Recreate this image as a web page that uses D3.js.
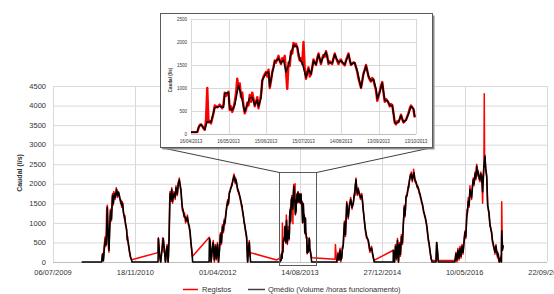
<!DOCTYPE html>
<html>
<head>
<meta charset="utf-8">
<script src="https://cdn.jsdelivr.net/npm/d3@7/dist/d3.min.js"></script>
<style>
    body { margin: 0; background: #fff; }
    svg { font-family: "Liberation Sans", Arial, sans-serif; }
</style>
</head>
<body>
<svg id="chart" width="554" height="294"></svg>
<script>
// datas em numero de serie Excel (dias desde 30/12/1899)
var mainTicks = [40000, 40500, 41000, 41500, 42000, 42500, 43000];
var caudalTicks = [0, 500, 1000, 1500, 2000, 2500, 3000, 3500, 4000, 4500];
var insetTicks = [41380, 41410, 41440, 41470, 41500, 41530, 41560];
var insetCaudalTicks = [0, 500, 1000, 1500, 2000, 2500];
var zoomWindow = [41375, 41597];
var zoomCaudal = [-80, 2300];
var seriesNames = ["Registos", "Qmédio (Volume /horas funcionamento)"];
var yTitle = "Caudal (l/s)";

// Registos (diarios)
var registos = [
    [40296, 0], [40301, 220], [40304, 60], [40307, 100], [40310, 400], [40314, 550], [40317, 650], [40321, 400], [40326, 1350], [40330, 1450],
    [40333, 800], [40337, 350], [40340, 250], [40344, 950], [40348, 1350], [40352, 1200], [40355, 1050], [40359, 1650], [40362, 1750], [40365, 1450],
    [40369, 1800], [40373, 1700], [40377, 1600], [40381, 1800], [40384, 1900], [40387, 1800], [40390, 1750], [40393, 1650], [40396, 1800], [40399, 1720],
    [40403, 1700], [40407, 1600], [40411, 1500], [40414, 1580], [40417, 1400], [40420, 1550], [40423, 1450], [40427, 1300], [40431, 1200], [40434, 1100],
    [40437, 1180], [40440, 950], [40444, 900], [40448, 800], [40451, 550], [40454, 650], [40457, 450], [40461, 350], [40464, 250], [40467, 200],
    [40470, 120], [40474, 80], [40478, 60],
    [40638, 240],
    [40640, 620], [40644, 350], [40647, 150], [40651, 50], [40654, 0], [40658, 200], [40662, 350], [40666, 620], [40670, 550], [40674, 250],
    [40677, 350], [40680, 100], [40683, 0], [40688, 250], [40693, 450], [40696, 200], [40699, 0], [40702, 200], [40705, 700], [40708, 1500],
    [40711, 1800], [40714, 1650], [40717, 1550], [40721, 1900], [40724, 1700], [40726, 1500], [40729, 1650], [40731, 1750], [40735, 1800], [40738, 1700],
    [40742, 1600], [40745, 1800], [40747, 1950], [40751, 1750], [40755, 1700], [40758, 1850], [40761, 2050], [40764, 2000], [40767, 2150], [40770, 2000],
    [40773, 1900], [40777, 1800], [40780, 1650], [40783, 1450], [40787, 1300], [40791, 1350], [40795, 1150], [40799, 1250], [40802, 1100], [40805, 1000],
    [40809, 1100], [40812, 1050], [40816, 1200], [40819, 1100], [40822, 950], [40825, 950], [40828, 850], [40831, 800], [40833, 700], [40836, 550],
    [40838, 450], [40841, 350], [40844, 200], [40846, 140],
    [40949, 630],
    [40951, 600], [40955, 450], [40958, 200], [40960, 0], [40964, 150], [40967, 350], [40970, 450], [40973, 550], [40977, 200], [40980, 0],
    [40983, 250], [40986, 450], [40989, 300], [40992, 50], [40995, 300], [40999, 500], [41002, 250], [41005, 0], [41008, 150], [41011, 350],
    [41014, 600], [41017, 750], [41020, 550], [41023, 450], [41026, 750], [41029, 950], [41032, 850], [41035, 750], [41038, 950], [41040, 1100],
    [41043, 950], [41045, 1050], [41048, 1200], [41051, 1300], [41053, 1350], [41055, 1450], [41058, 1500], [41061, 1600], [41064, 1450], [41066, 1550],
    [41069, 1700], [41071, 1800], [41075, 1800], [41078, 1900], [41082, 1900], [41085, 2000], [41088, 1950], [41091, 2100], [41094, 2100], [41096, 2200],
    [41099, 2250], [41101, 2200], [41104, 2100], [41107, 2000], [41109, 2150], [41111, 2050], [41114, 2050], [41116, 1950], [41119, 1900], [41122, 1800],
    [41125, 1850], [41127, 1750], [41131, 1700], [41135, 1650], [41139, 1550], [41142, 1500], [41146, 1400], [41148, 1450], [41150, 1300], [41154, 1200],
    [41157, 1150], [41160, 1000], [41164, 950], [41168, 800], [41172, 700], [41176, 600], [41178, 350], [41180, 150], [41182, 0], [41185, 200],
    [41187, 400], [41190, 450], [41192, 550], [41195, 300], [41197, 150], [41199, 240],
    [41359, 50], [41370, 90], [41378, 60],
    [41380, 40], [41383, 40], [41385, 40], [41386, 120], [41387, 200], [41388, 210], [41389, 180], [41390, 120], [41391, 90], [41392, 300],
    [41393, 1000], [41394, 250], [41395, 280], [41396, 230], [41398, 450], [41399, 620], [41401, 580], [41403, 640], [41405, 560], [41406, 650],
    [41407, 900], [41408, 830], [41410, 920], [41411, 520], [41412, 600], [41413, 480], [41414, 560], [41415, 700], [41416, 880], [41417, 1200],
    [41418, 1000], [41419, 1100], [41420, 800], [41421, 900], [41422, 600], [41423, 450], [41424, 520], [41425, 680], [41426, 620], [41427, 850],
    [41428, 700], [41429, 900], [41430, 760], [41431, 600], [41432, 700], [41433, 800], [41434, 560], [41435, 700], [41436, 850], [41437, 1150],
    [41438, 1250], [41440, 1350], [41441, 1250], [41442, 1400], [41443, 1000], [41444, 1150], [41445, 1350], [41446, 1450], [41447, 1600], [41448, 1550],
    [41450, 1700], [41451, 1580], [41452, 1520], [41453, 1650], [41454, 1620], [41455, 1700], [41456, 1350], [41457, 980], [41458, 1550], [41459, 1480],
    [41460, 1800], [41461, 1750], [41462, 1980], [41463, 1900], [41464, 1960], [41465, 1880], [41466, 1700], [41467, 1600], [41468, 1650], [41469, 1520],
    [41470, 2000], [41471, 1400], [41472, 1200], [41473, 1350], [41474, 1450], [41475, 1250], [41476, 1300], [41477, 1450], [41478, 1620], [41479, 1550],
    [41480, 1500], [41481, 1650], [41482, 1750], [41483, 1620], [41484, 1520], [41485, 1650], [41486, 1720], [41487, 1680], [41488, 1800], [41489, 1700],
    [41490, 1520], [41491, 1580], [41493, 1520], [41494, 1650], [41495, 1750], [41496, 1650], [41498, 1520], [41499, 1600], [41500, 1620], [41501, 1550],
    [41503, 1490], [41504, 1600], [41506, 1750], [41507, 1600], [41508, 1500], [41510, 1560], [41511, 1540], [41512, 1450], [41513, 1350], [41514, 1200],
    [41516, 1000], [41517, 1150], [41518, 1320], [41519, 1400], [41520, 1500], [41521, 1380], [41522, 1250], [41523, 1180], [41524, 1140], [41525, 1220],
    [41526, 1180], [41527, 1050], [41528, 950], [41529, 720], [41530, 820], [41531, 930], [41532, 1050], [41533, 1130], [41534, 900], [41535, 700],
    [41536, 760], [41537, 720], [41538, 680], [41539, 600], [41540, 650], [41541, 630], [41542, 450], [41543, 240], [41544, 210], [41545, 280],
    [41546, 260], [41547, 330], [41548, 420], [41549, 320], [41550, 250], [41551, 280], [41552, 310], [41553, 380], [41554, 450], [41555, 560],
    [41556, 620], [41557, 580], [41558, 530], [41559, 360], [41565, 250], [41571, 110],
    [41713, 70],
    [41715, 450], [41719, 200], [41723, 0], [41727, 100], [41731, 250], [41734, 150], [41737, 50], [41740, 200], [41743, 350], [41746, 200],
    [41748, 0], [41751, 150], [41753, 100], [41756, 300], [41758, 400], [41761, 350], [41763, 500], [41766, 800], [41770, 1050], [41773, 900],
    [41776, 650], [41780, 1100], [41784, 1550], [41787, 1400], [41789, 1250], [41793, 1100], [41797, 1350], [41801, 1500], [41804, 1550], [41808, 1650],
    [41812, 1500], [41816, 1350], [41820, 1450], [41824, 1550], [41826, 1600], [41828, 1700], [41832, 1800], [41834, 1700], [41836, 2000], [41838, 1950],
    [41840, 2150], [41842, 2000], [41844, 1850], [41846, 1800], [41848, 1700], [41851, 1800], [41854, 1900], [41857, 1800], [41860, 1700], [41863, 1750],
    [41867, 1600], [41871, 1650], [41875, 1750], [41878, 1650], [41880, 1500], [41882, 1400], [41884, 1300], [41887, 1200], [41889, 1100], [41892, 1000],
    [41895, 850], [41900, 700], [41905, 600], [41910, 600], [41915, 500], [41920, 350], [41925, 250], [41930, 350], [41935, 400], [41940, 200],
    [41945, 100], [41949, 40],
    [42067, 300],
    [42070, 150], [42074, 0], [42077, 200], [42080, 450], [42083, 300], [42086, 50], [42089, 300], [42092, 600], [42095, 300], [42098, 0],
    [42101, 200], [42104, 500], [42107, 400], [42110, 150], [42113, 400], [42116, 700], [42119, 550], [42122, 450], [42125, 700], [42127, 950],
    [42130, 1150], [42133, 1450], [42136, 1300], [42138, 1150], [42141, 1400], [42144, 1700], [42147, 1650], [42150, 1750], [42154, 1850], [42158, 1950],
    [42161, 1900], [42164, 2100], [42167, 2150], [42170, 2250], [42173, 2200], [42176, 2300], [42179, 2200], [42182, 2050], [42185, 2150], [42188, 2250],
    [42190, 2370], [42192, 2300], [42195, 2200], [42198, 2050], [42201, 2100], [42204, 2000], [42207, 2000], [42211, 1900], [42214, 1950], [42218, 1850],
    [42221, 1850], [42224, 1750], [42227, 1750], [42231, 1650], [42235, 1600], [42239, 1500], [42242, 1500], [42245, 1400], [42248, 1350], [42251, 1250],
    [42254, 1250], [42257, 1150], [42260, 1150], [42263, 1050], [42267, 1000], [42271, 850], [42275, 700], [42279, 550], [42282, 500], [42285, 400],
    [42288, 300], [42291, 200], [42294, 150], [42296, 80], [42300, 40], [42326, 40], [42330, 500], [42333, 350], [42335, 250], [42338, 40],
    [42441, 40],
    [42444, 150], [42447, 250], [42450, 100], [42453, 0], [42456, 200], [42459, 350], [42462, 200], [42466, 50], [42469, 250], [42472, 400],
    [42475, 250], [42478, 100], [42481, 300], [42484, 450], [42487, 350], [42490, 200], [42493, 350], [42496, 550], [42499, 700], [42502, 800],
    [42505, 700], [42507, 600], [42510, 900], [42512, 1200], [42515, 1350], [42517, 1250], [42520, 1500], [42522, 1650], [42525, 1500], [42527, 1400],
    [42530, 1700], [42532, 1950], [42535, 1800], [42537, 1700], [42540, 1750], [42542, 1600], [42545, 1800], [42547, 1950], [42550, 2050], [42552, 2150],
    [42555, 2100], [42557, 1950], [42560, 2150], [42563, 2300], [42565, 2200], [42568, 2100], [42571, 2350], [42573, 2500], [42576, 2400], [42578, 2200],
    [42581, 2350], [42583, 2250], [42586, 2200], [42588, 2100], [42591, 2150], [42593, 2050], [42596, 2200], [42598, 2300], [42601, 2150], [42603, 2250],
    [42606, 1900], [42609, 1500], [42611, 1900], [42613, 2150], [42615, 2400], [42617, 2500], [42619, 4300], [42621, 2600], [42623, 2750], [42626, 2450],
    [42628, 2350], [42631, 2250], [42634, 2150], [42637, 1700], [42640, 1400], [42642, 1400], [42644, 1300], [42646, 1300], [42648, 1200], [42651, 1050],
    [42654, 900], [42657, 900], [42659, 800], [42662, 800], [42664, 700], [42667, 600], [42669, 500], [42672, 500], [42674, 400], [42677, 400],
    [42679, 300], [42682, 300], [42684, 200], [42687, 350], [42690, 450], [42692, 350], [42694, 250], [42697, 200], [42700, 100], [42702, 250],
    [42704, 150], [42707, 50], [42710, 0], [42715, 80], [42719, 150], [42723, 0], [42725, 1540], [42728, 600], [42730, 350], [42734, 400]
];

// Qmedio = volume / horas de funcionamento
var qmedio = [
    [40174, 0], [40295, 0],
    [40301, 200], [40306, 30], [40312, 350], [40319, 600], [40324, 450], [40330, 1400], [40335, 700], [40340, 300],
    [40345, 900], [40350, 1300], [40355, 1100], [40362, 1700], [40367, 1500], [40373, 1750], [40380, 1650], [40387, 1850], [40393, 1700], [40399, 1780],
    [40405, 1650], [40411, 1550], [40417, 1450], [40423, 1500], [40428, 1250], [40434, 1150], [40440, 1000], [40446, 850], [40451, 600], [40457, 500],
    [40464, 300], [40470, 150], [40476, 60], [40480, 0],
    [40638, 0],
    [40640, 600], [40647, 200], [40654, 0], [40662, 300], [40670, 600], [40677, 300], [40683, 0], [40693, 400], [40699, 0], [40705, 600],
    [40711, 1750], [40717, 1600], [40721, 1850], [40726, 1550], [40731, 1700], [40738, 1750], [40742, 1650], [40747, 1900], [40751, 1800], [40755, 1750],
    [40761, 2000], [40767, 2100], [40773, 1950], [40777, 1850], [40783, 1500], [40787, 1350], [40791, 1300], [40795, 1200], [40802, 1150], [40809, 1050],
    [40816, 1150], [40822, 1000], [40828, 900], [40833, 750], [40838, 500], [40844, 250], [40848, 0],
    [40948, 0],
    [40950, 600], [40955, 500], [40960, 0], [40967, 300], [40973, 500], [40980, 50], [40986, 400], [40992, 100], [40999, 450], [41005, 0],
    [41011, 300], [41017, 700], [41023, 500], [41029, 900], [41035, 800], [41040, 1050], [41045, 1000], [41051, 1250], [41055, 1400], [41061, 1550],
    [41066, 1500], [41071, 1750], [41078, 1850], [41085, 1950], [41091, 2050], [41096, 2150], [41101, 2200], [41107, 2050], [41111, 2100], [41116, 2000],
    [41122, 1850], [41127, 1800], [41131, 1750], [41139, 1600], [41146, 1450], [41150, 1350], [41154, 1250], [41160, 1050], [41168, 850], [41176, 650],
    [41180, 200], [41182, 0], [41187, 350], [41192, 500], [41196, 200], [41200, 0],
    [41378, 0],
    [41380, 40], [41385, 40], [41386, 150], [41388, 200], [41391, 100], [41393, 270], [41396, 260], [41399, 570], [41403, 600], [41406, 580],
    [41407, 880], [41410, 900], [41411, 550], [41413, 520], [41415, 630], [41418, 1060], [41420, 850], [41423, 490], [41425, 630], [41427, 780],
    [41429, 800], [41431, 630], [41433, 740], [41434, 600], [41436, 780], [41437, 1170], [41440, 1320], [41442, 1350], [41443, 1040], [41445, 1320],
    [41447, 1570], [41450, 1640], [41452, 1540], [41454, 1610], [41456, 1350], [41458, 1500], [41460, 1750], [41462, 1930], [41465, 1900], [41467, 1620],
    [41469, 1550], [41472, 1230], [41474, 1410], [41476, 1300], [41478, 1590], [41480, 1510], [41482, 1730], [41484, 1550], [41486, 1690], [41488, 1780],
    [41490, 1550], [41493, 1550], [41495, 1730], [41498, 1550], [41500, 1590], [41503, 1510], [41506, 1730], [41508, 1510], [41511, 1550], [41513, 1370],
    [41516, 1010], [41518, 1300], [41520, 1480], [41522, 1260], [41524, 1160], [41526, 1190], [41528, 980], [41529, 760], [41531, 910], [41533, 1110],
    [41535, 730], [41537, 730], [41539, 620], [41541, 620], [41543, 260], [41544, 230], [41546, 260], [41548, 400], [41550, 260], [41552, 300],
    [41554, 440], [41556, 600], [41558, 550], [41559, 370], [41565, 200], [41571, 0],
    [41723, 0],
    [41731, 200], [41737, 50], [41743, 300], [41748, 50], [41753, 100], [41758, 350], [41763, 450], [41770, 1000], [41776, 700], [41784, 1500],
    [41789, 1300], [41793, 1150], [41801, 1450], [41808, 1600], [41816, 1400], [41824, 1500], [41828, 1650], [41832, 1750], [41836, 1950], [41840, 2100],
    [41844, 1900], [41848, 1750], [41854, 1850], [41860, 1750], [41867, 1650], [41875, 1700], [41880, 1550], [41884, 1350], [41889, 1150], [41895, 900],
    [41905, 650], [41915, 550], [41925, 300], [41935, 350], [41945, 130], [41951, 0],
    [42066, 0],
    [42067, 300], [42074, 0], [42080, 400], [42086, 100], [42092, 550], [42098, 0], [42104, 450], [42110, 200], [42116, 650], [42122, 500],
    [42127, 900], [42133, 1400], [42138, 1200], [42144, 1650], [42150, 1700], [42158, 1900], [42164, 2050], [42170, 2200], [42176, 2250], [42182, 2100],
    [42188, 2200], [42192, 2280], [42198, 2100], [42204, 2050], [42211, 1950], [42218, 1900], [42224, 1800], [42231, 1700], [42239, 1550], [42245, 1450],
    [42251, 1300], [42257, 1200], [42263, 1100], [42271, 900], [42279, 600], [42285, 450], [42291, 250], [42296, 100], [42302, 0], [42326, 0],
    [42330, 500], [42335, 300], [42340, 0],
    [42441, 0],
    [42447, 200], [42453, 50], [42459, 300], [42466, 100], [42472, 350], [42478, 150], [42484, 400], [42490, 250], [42496, 500], [42502, 750],
    [42507, 650], [42512, 1100], [42517, 1300], [42522, 1550], [42527, 1450], [42532, 1850], [42537, 1750], [42542, 1650], [42547, 1900], [42552, 2100],
    [42557, 2000], [42563, 2250], [42568, 2150], [42573, 2450], [42578, 2250], [42583, 2300], [42588, 2150], [42593, 2100], [42598, 2250], [42603, 2200],
    [42609, 1800], [42613, 2100], [42617, 2450], [42623, 2700], [42628, 2400], [42634, 2200], [42640, 1450], [42644, 1350], [42648, 1250], [42654, 950],
    [42659, 850], [42664, 750], [42669, 550], [42674, 450], [42679, 350], [42684, 250], [42690, 400], [42694, 300], [42700, 150], [42704, 200],
    [42710, 0], [42719, 100], [42723, 0], [42725, 800], [42730, 300], [42734, 430]
];

window.onload = function() {
    drawChart();
};

function serialToDate(s) {
    return new Date(Date.UTC(1899, 11, 30) + s * 864e5);
}

function drawChart() {
    var svg = d3.select("#chart");
    var fmtDate = d3.utcFormat("%d/%m/%Y");
    var gridColor = "#d9d9d9";
    var textColor = "#333";

    // grafico principal
    var x = d3.scaleLinear().domain([40000, 43000]).range([53, 547]);
    var y = d3.scaleLinear().domain([0, 4500]).range([262, 86]);

    var main = svg.append("g");

    main.selectAll(".hgrid").data(caudalTicks).enter().append("line")
        .attr("x1", x.range()[0]).attr("x2", x.range()[1])
        .attr("y1", function(d) { return y(d) + 0.5; })
        .attr("y2", function(d) { return y(d) + 0.5; })
        .attr("stroke", function(d) { return d === 0 ? "#bfbfbf" : gridColor; });

    main.selectAll(".vgrid").data(mainTicks).enter().append("line")
        .attr("x1", function(d) { return Math.round(x(d)) + 0.5; })
        .attr("x2", function(d) { return Math.round(x(d)) + 0.5; })
        .attr("y1", y(4500)).attr("y2", y(0))
        .attr("stroke", gridColor);

    main.selectAll(".ylab").data(caudalTicks).enter().append("text")
        .attr("x", 46).attr("y", function(d) { return y(d); })
        .attr("dy", "0.35em")
        .attr("text-anchor", "end")
        .attr("font-size", 7.5).attr("fill", textColor)
        .text(function(d) { return d; });

    // o ultimo rotulo fica cortado na margem direita, como no original
    main.selectAll(".xlab").data(mainTicks).enter().append("text")
        .attr("x", function(d) { return x(d); }).attr("y", 272)
        .attr("dy", "0.35em")
        .attr("text-anchor", "middle")
        .attr("font-size", 7.5).attr("fill", textColor)
        .text(function(d) { return fmtDate(serialToDate(d)); });

    main.append("text")
        .attr("transform", "translate(22,173) rotate(-90)")
        .attr("text-anchor", "middle")
        .attr("font-size", 7).attr("font-weight", "bold").attr("fill", textColor)
        .text(yTitle);

    var line = d3.line()
        .x(function(d) { return x(d[0]); })
        .y(function(d) { return y(d[1]); });

    main.append("path").datum(registos)
        .attr("d", line).attr("fill", "none")
        .attr("stroke", "#ff0000").attr("stroke-width", 1.5)
        .attr("stroke-linejoin", "round");

    main.append("path").datum(qmedio)
        .attr("d", line).attr("fill", "none")
        .attr("stroke", "#000").attr("stroke-width", 1.6)
        .attr("stroke-linejoin", "round");

    // janela ampliada
    var box = { x0: 160.5, y0: 13.5, x1: 432.5, y1: 147.5 };
    var zx0 = Math.round(x(zoomWindow[0])) + 0.5, zx1 = Math.round(x(zoomWindow[1])) + 0.5;
    var zyTop = Math.round(y(zoomCaudal[1])) + 0.5, zyBot = Math.round(y(zoomCaudal[0])) + 0.5;

    main.append("rect")
        .attr("x", zx0).attr("y", zyTop)
        .attr("width", zx1 - zx0).attr("height", zyBot - zyTop)
        .attr("fill", "none").attr("stroke", "#595959").attr("stroke-width", 1);

    main.append("line").attr("x1", zx0).attr("y1", zyTop).attr("x2", box.x0).attr("y2", box.y1)
        .attr("stroke", "#404040");
    main.append("line").attr("x1", zx1).attr("y1", zyTop).attr("x2", box.x1).attr("y2", box.y1)
        .attr("stroke", "#404040");

    // legenda
    var legend = svg.append("g");
    legend.append("line").attr("x1", 183).attr("x2", 198).attr("y1", 289.5).attr("y2", 289.5)
        .attr("stroke", "#ff0000").attr("stroke-width", 1.5);
    legend.append("text").attr("x", 202).attr("y", 289.5).attr("dy", "0.33em")
        .attr("font-size", 7.5).attr("fill", textColor).text(seriesNames[0]);
    legend.append("line").attr("x1", 248).attr("x2", 265).attr("y1", 289.5).attr("y2", 289.5)
        .attr("stroke", "#404040").attr("stroke-width", 1.5);
    legend.append("text").attr("x", 268).attr("y", 289.5).attr("dy", "0.33em")
        .attr("font-size", 7.5).attr("fill", textColor).text(seriesNames[1]);

    // grafico inserido
    var inset = svg.append("g");
    inset.append("rect")
        .attr("x", box.x0 + 2).attr("y", box.y0 + 2)
        .attr("width", box.x1 - box.x0).attr("height", box.y1 - box.y0)
        .attr("fill", "#8c8c8c");
    inset.append("rect")
        .attr("x", box.x0).attr("y", box.y0)
        .attr("width", box.x1 - box.x0).attr("height", box.y1 - box.y0)
        .attr("fill", "#fff").attr("stroke", "#595959");

    var xi = d3.scaleLinear().domain([insetTicks[0], insetTicks[insetTicks.length - 1]]).range([191, 416]);
    var yi = d3.scaleLinear().domain([0, 2500]).range([134, 19]);

    inset.selectAll(".ihgrid").data(insetCaudalTicks).enter().append("line")
        .attr("x1", xi.range()[0]).attr("x2", xi.range()[1])
        .attr("y1", function(d) { return Math.round(yi(d)) + 0.5; })
        .attr("y2", function(d) { return Math.round(yi(d)) + 0.5; })
        .attr("stroke", function(d) { return d === 0 ? "#bfbfbf" : gridColor; });

    inset.selectAll(".ivgrid").data(insetTicks).enter().append("line")
        .attr("x1", function(d) { return Math.round(xi(d)) + 0.5; })
        .attr("x2", function(d) { return Math.round(xi(d)) + 0.5; })
        .attr("y1", yi(2500)).attr("y2", yi(0))
        .attr("stroke", gridColor);

    inset.selectAll(".iylab").data(insetCaudalTicks).enter().append("text")
        .attr("x", 187).attr("y", function(d) { return yi(d); })
        .attr("dy", "0.35em").attr("text-anchor", "end")
        .attr("font-size", 4.5).attr("fill", textColor)
        .text(function(d) { return d; });

    inset.selectAll(".ixlab").data(insetTicks).enter().append("text")
        .attr("x", function(d) { return xi(d); }).attr("y", 141)
        .attr("dy", "0.35em").attr("text-anchor", "middle")
        .attr("font-size", 4.5).attr("fill", textColor)
        .text(function(d) { return fmtDate(serialToDate(d)); });

    inset.append("text")
        .attr("transform", "translate(172,80) rotate(-90)")
        .attr("text-anchor", "middle")
        .attr("font-size", 4.5).attr("font-weight", "bold").attr("fill", textColor)
        .text(yTitle);

    function inWindow(d) { return d[0] >= xi.domain()[0] && d[0] <= xi.domain()[1]; }

    var iline = d3.line()
        .x(function(d) { return xi(d[0]); })
        .y(function(d) { return yi(d[1]); });

    inset.append("path").datum(registos.filter(inWindow))
        .attr("d", iline).attr("fill", "none")
        .attr("stroke", "#ff0000").attr("stroke-width", 2.4)
        .attr("stroke-linejoin", "round");

    inset.append("path").datum(qmedio.filter(inWindow))
        .attr("d", iline).attr("fill", "none")
        .attr("stroke", "#000").attr("stroke-width", 1.5)
        .attr("stroke-linejoin", "round");
}
</script>
</body>
</html>
